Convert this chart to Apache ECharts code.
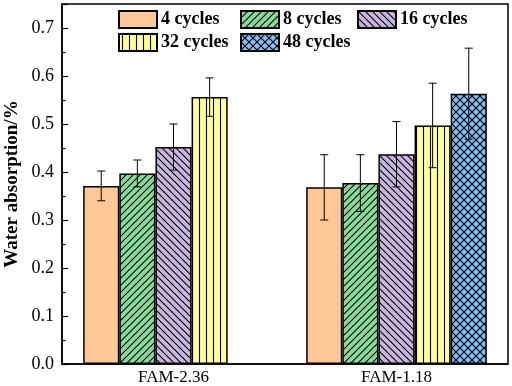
<!DOCTYPE html>
<html>
<head>
<meta charset="utf-8">
<script src="https://cdn.jsdelivr.net/npm/echarts@6/dist/echarts.min.js"></script>
<style>
  html, body { margin: 0; padding: 0; background: #fff; }
  #main { width: 512px; height: 386px; }
</style>
</head>
<body>
<div id="main"></div>
<script>
const categories = ['FAM-2.36', 'FAM-1.18']
const seriesNames = ['4 cycles', '8 cycles', '16 cycles', '32 cycles', '48 cycles']
// mean values per series, [FAM-2.36, FAM-1.18]
const cycles4 = [0.371, 0.368]
const cycles8 = [0.397, 0.377]
const cycles16 = [0.452, 0.437]
const cycles32 = [0.556, 0.497]
const cycles48 = [null, 0.563]
// error (standard deviation) per series
const err4 = [0.031, 0.068]
const err8 = [0.028, 0.059]
const err16 = [0.048, 0.068]
const err32 = [0.040, 0.088]
const err48 = [null, 0.095]
const yTicks = [0, 0.1, 0.2, 0.3, 0.4, 0.5, 0.6, 0.7]

const values = [cycles4, cycles8, cycles16, cycles32, cycles48]
const errors = [err4, err8, err16, err32, err48]

const serif = 'Liberation Serif'

// fill patterns (hatch) for the bars
const makePattern = (bg, size, draw) => {
    const c = document.createElement('canvas')
    c.width = size
    c.height = size
    const ctx = c.getContext('2d')
    ctx.fillStyle = bg
    ctx.fillRect(0, 0, size, size)
    ctx.strokeStyle = '#000'
    ctx.lineWidth = 1.1
    draw(ctx, size)
    return { image: c, repeat: 'repeat' }
}
const slash = (ctx, s) => {
    ctx.beginPath()
    ctx.moveTo(-1, s + 1); ctx.lineTo(s + 1, -1)
    ctx.moveTo(-1, 1); ctx.lineTo(1, -1)
    ctx.moveTo(s - 1, s + 1); ctx.lineTo(s + 1, s - 1)
    ctx.stroke()
}
const backslash = (ctx, s) => {
    ctx.beginPath()
    ctx.moveTo(-1, -1); ctx.lineTo(s + 1, s + 1)
    ctx.moveTo(s - 1, -1); ctx.lineTo(s + 1, 1)
    ctx.moveTo(-1, s - 1); ctx.lineTo(1, s + 1)
    ctx.stroke()
}
const vertical = (ctx, s) => {
    ctx.beginPath()
    ctx.moveTo(s / 2, 0); ctx.lineTo(s / 2, s)
    ctx.stroke()
}
const cross = (ctx, s) => { slash(ctx, s); backslash(ctx, s) }

const fills = [
    '#fdc895',
    makePattern('#86dc9a', 7, slash),
    makePattern('#c9b6e0', 7, backslash),
    makePattern('#ffff99', 7, vertical),
    makePattern('#82bff4', 8, cross)
]

const barGapPct = 19
const chart = echarts.init(document.getElementById('main'))

const barSeries = seriesNames.map((name, i) => ({
    name,
    type: 'bar',
    data: values[i],
    barGap: 0,
    barCategoryGap: barGapPct + '%',
    itemStyle: { color: fills[i], borderColor: '#000', borderWidth: 1.5 },
    z: 2
}))

const errData = []
errors.forEach((arr, s) => {
    arr.forEach((e, c) => {
        if (e == null) return
        const v = values[s][c]
        errData.push([c, s, v - e, v + e])
    })
})

const errSeries = {
    type: 'custom',
    data: errData,
    encode: { x: 0, y: [2, 3] },
    z: 5,
    silent: true,
    renderItem: (params, api) => {
        const c = api.value(0)
        const s = api.value(1)
        const lo = api.coord([c, api.value(2)])
        const hi = api.coord([c, api.value(3)])
        const band = api.size([1, 0])[0]
        const bw = band * (1 - barGapPct / 100) / seriesNames.length
        const x = lo[0] + (s - (seriesNames.length - 1) / 2) * bw
        const cap = 4
        const style = { stroke: '#000', lineWidth: 1 }
        return {
            type: 'group',
            children: [
                { type: 'line', shape: { x1: x, y1: lo[1], x2: x, y2: hi[1] }, style },
                { type: 'line', shape: { x1: x - cap, y1: lo[1], x2: x + cap, y2: lo[1] }, style },
                { type: 'line', shape: { x1: x - cap, y1: hi[1], x2: x + cap, y2: hi[1] }, style }
            ]
        }
    }
}

const legendPos = [[118, 10], [240, 10], [357, 10], [118, 33], [240, 33]]
const legends = seriesNames.map((name, i) => ({
    data: [name],
    left: legendPos[i][0],
    top: legendPos[i][1],
    icon: 'rect',
    itemWidth: 38,
    itemHeight: 17,
    itemGap: 0,
    padding: 0,
    textStyle: { fontFamily: serif, fontWeight: 'bold', fontSize: 18, color: '#000', padding: [0, 0, 0, -1] },
    selectedMode: false
}))

chart.setOption({
    animation: false,
    backgroundColor: '#fff',
    grid: {
        left: 62, right: 4, top: 4, bottom: 22,
        outerBoundsMode: 'none',
        containLabel: false,
        show: true, borderColor: '#000', borderWidth: 1.5, backgroundColor: 'transparent'
    },
    legend: legends,
    xAxis: {
        type: 'category',
        data: categories,
        axisLine: { show: true, lineStyle: { color: '#000', width: 1.5 } },
        axisTick: { show: false },
        axisLabel: { color: '#000', fontFamily: serif, fontSize: 17, margin: 5 }
    },
    yAxis: {
        type: 'value',
        min: 0,
        max: 0.75,
        interval: 0.1,
        name: 'Water absorption/%',
        nameLocation: 'middle',
        nameGap: 40,
        nameMoveOverlap: false,
        nameTextStyle: { fontFamily: serif, fontWeight: 'bold', fontSize: 19, color: '#000' },
        axisLine: { show: true, lineStyle: { color: '#000', width: 1.5 } },
        axisTick: { show: true, inside: true, length: 6, lineStyle: { color: '#000', width: 1.2 } },
        minorTick: { show: true, splitNumber: 2, length: 3.5, lineStyle: { color: '#000', width: 1.2 } },
        splitLine: { show: false },
        axisLabel: {
            color: '#000', fontFamily: serif, fontSize: 18, margin: 8,
            formatter: v => yTicks.some(t => Math.abs(t - v) < 1e-6) ? v.toFixed(1) : ''
        }
    },
    series: [...barSeries, errSeries]
})
</script>
</body>
</html>
